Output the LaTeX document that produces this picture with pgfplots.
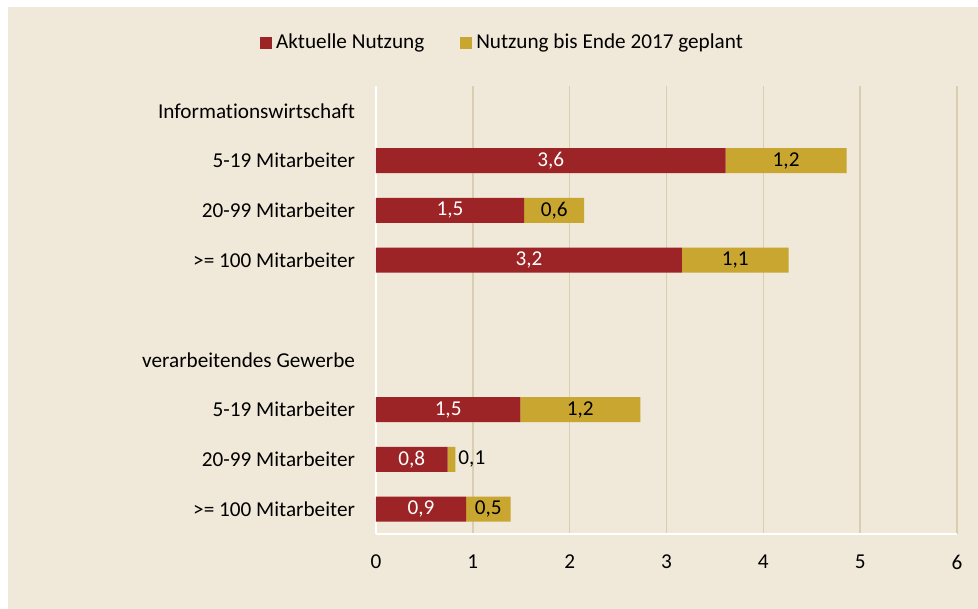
\documentclass[border=0pt]{standalone}
\usepackage{fontspec}
\setmainfont{Carlito}[Ligatures=NoCommon]
\usepackage{pgfplots}
\usepackage{pgfplotstable}
\pgfplotsset{compat=1.18}
\definecolor{bgc}{HTML}{F0E8D8}
\definecolor{gridc}{HTML}{D9CEB0}
\definecolor{curc}{HTML}{9C2326}
\definecolor{planc}{HTML}{C9A630}

% y: 8 = top row, 0 = bottom row
\pgfplotstableread{
y cur  curl plan planl
7 3.61 3,6  1.25 1,2
6 1.53 1,5  0.62 0,6
5 3.16 3,2  1.10 1,1
2 1.49 1,5  1.24 1,2
1 0.74 0,8  0.08 0,1
0 0.93 0,9  0.46 0,5
}\data

% one x unit in pt (axis width / 6)
\def\unit{48.4167}

\begin{document}
\begin{tikzpicture}
\fill[white] (-188pt,-37.5pt) rectangle (301pt,267pt);
\fill[bgc] (-184pt,-37.5pt) rectangle (301pt,263.5pt);
\begin{axis}[
    at={(0pt,0pt)}, anchor=south west,
    scale only axis, width=290.5pt, height=224pt,
    xbar stacked, bar width=12.5pt,
    xmin=0, xmax=6, ymin=-0.5, ymax=8.5,
    xtick={0,...,6}, ytick={0,...,8},
    yticklabels={>= 100 Mitarbeiter,20-99 Mitarbeiter,5-19 Mitarbeiter,verarbeitendes Gewerbe,,>= 100 Mitarbeiter,20-99 Mitarbeiter,5-19 Mitarbeiter,Informationswirtschaft},
    axis lines*=left,
    axis line style={white, line width=1.2pt, -},
    major tick length=0pt,
    xmajorgrids, grid style={gridc, line width=0.7pt},
    /pgf/number format/assume math mode=true,
    tick label style={font=\fontsize{10.6}{12}\selectfont, text=black},
    xticklabel style={yshift=-7pt},
    yticklabel style={xshift=-7pt},
    legend style={at={(0.2195,1.096)}, anchor=center, legend columns=2,
        draw=none, fill=none, font=\fontsize{10.6}{12}\selectfont,
        /tikz/every even column/.append style={column sep=16pt}},
    legend image code/.code={\fill[#1, draw=none] (0pt,-3pt) rectangle (6pt,3pt);},
    nodes near coords,
    point meta=explicit symbolic,
    visualization depends on={rawx \as \w},
    every node near coord/.append style={font=\fontsize{10.6}{12}\selectfont, anchor=center},
    clip=false,
]
\addplot[fill=curc, draw=none,
    every node near coord/.append style={text=white}]
    table[x=cur, y=y, meta=curl] {\data};
\addlegendentry{Aktuelle Nutzung}
% labels sit in the middle of each segment; a very thin one gets its label outside
\addplot[fill=planc, draw=none,
    every node near coord/.append style={text=black, xshift={(\w<0.2 ? 0.21 : 0)*\unit*1pt}}]
    table[x=plan, y=y, meta=planl] {\data};
\addlegendentry{Nutzung bis Ende 2017 geplant}
\end{axis}
\end{tikzpicture}
\end{document}
